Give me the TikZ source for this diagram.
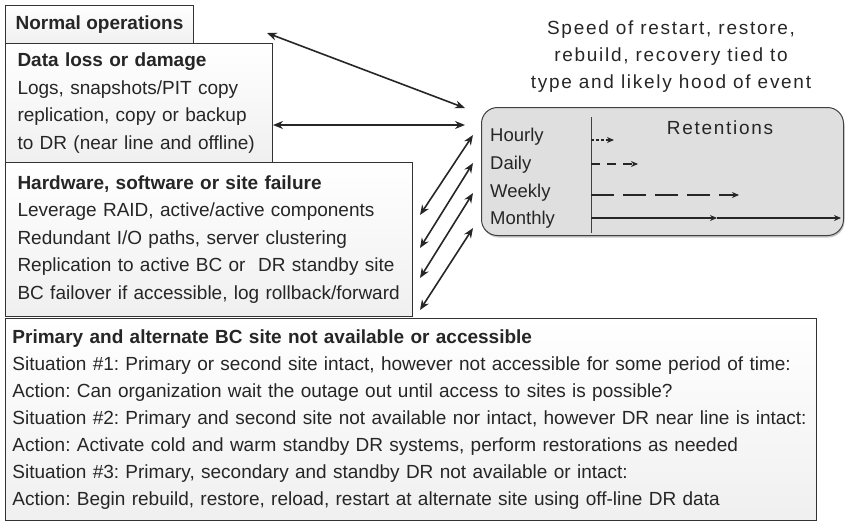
\documentclass[tikz,border=0pt]{standalone}
\usepackage{fontspec}
\setmainfont{Liberation Sans}
\usetikzlibrary{shadows,arrows.meta}
\tikzset{
  evbox/.style={draw=black!80, line width=1pt, top color=white, bottom color=gray!12,
    anchor=north west, align=left, inner ysep=0pt, inner xsep=12pt, text=black!85,
    font=\fontsize{19}{27.5}\selectfont},
  linkarrow/.style={{Stealth[length=10pt,width=8pt]}-{Stealth[length=10pt,width=8pt]}, line width=1.6pt, black!85},
  retarrow/.style={-{Stealth[length=7pt,width=6pt]}, line width=1.5pt, black!85},
  spaced/.style={font=\fontsize{19}{27}\selectfont\addfontfeature{LetterSpace=9}, text=black!85},
  period/.style={anchor=west, inner sep=0pt, font=\fontsize{18.5}{20}\selectfont, text=black!85},
}
\begin{document}
\frenchspacing
\begin{tikzpicture}[x=1pt,y=-1pt]
\useasboundingbox (0,0) rectangle (848,528);

\node[evbox, minimum width=188, minimum height=38, inner xsep=0pt, align=center] (normal) at (5,5)
  {\textbf{Normal operations}};

\node[evbox, text width=243, minimum height=119] (dataloss) at (5,43)
  {\textbf{Data loss or damage}\\
   Logs, snapshots/PIT copy\\
   replication, copy or backup\\
   to DR (near line and offline)};

\node[evbox, text width=383, minimum height=154] (hwfail) at (5,162)
  {\textbf{Hardware, software or site failure}\\
   Leverage RAID, active/active components\\
   Redundant I/O paths, server clustering\\
   Replication to active BC or\ \ DR standby site\\
   BC failover if accessible, log rollback/forward};

\node[evbox, text width=797, minimum height=202, inner xsep=7pt, font=\fontsize{19}{27}\selectfont\frenchspacing] (sitefail) at (5,318)
  {\textbf{Primary and alternate BC site not available or accessible}\\
   Situation \#1: Primary or second site intact, however not accessible for some period of time:\\
   Action: Can organization wait the outage out until access to sites is possible?\\
   \mbox{Situation \#2: Primary and second site not available nor intact, however DR near line is intact:}\\
   Action: Activate cold and warm standby DR systems, perform restorations as needed\\
   Situation \#3: Primary, secondary and standby DR not available or intact:\\
   Action: Begin rebuild, restore, reload, restart at alternate site using off-line DR data};

\node[spaced, align=center] (speed) at (671,57)
  {Speed of restart, restore,\\rebuild, recovery tied to\\type and likely hood of event};

\node[anchor=north west, draw=black!75, line width=1pt, fill=gray!25, rounded corners=16pt,
  minimum width=362, minimum height=128,
  drop shadow={shadow xshift=1pt, shadow yshift=-2pt, opacity=.45}] (retention) at (481,107) {};

\node[spaced] (retlabel) at (720,128) {Retentions};
\node[period] (hourly) at (490,137) {Hourly};
\node[period] (daily) at (490,165) {Daily};
\node[period] (weekly) at (490,193) {Weekly};
\node[period] (monthly) at (490,220) {Monthly};

\draw[black!75, line width=1pt] (591,117) -- (591,233);

\coordinate (h0) at (591,140);
\coordinate (h1) at (614,140);
\coordinate (d0) at (591,164);
\coordinate (d1) at (638,164);
\coordinate (w0) at (591,195);
\coordinate (w1) at (739,195);
\coordinate (m0) at (591,218);
\coordinate (m1) at (717,218);
\coordinate (m2) at (841,218);

\draw[retarrow, dash pattern=on 2.5pt off 2.5pt] (h0) -- (h1);
\draw[retarrow, dash pattern=on 9pt off 7pt] (d0) -- (d1);
\draw[retarrow, dash pattern=on 23pt off 9pt] (w0) -- (w1);
\draw[retarrow] (m1) -- (m2);
\draw[retarrow] (m0) -- (m1);

\coordinate (n0) at (267,33);
\coordinate (n1) at (465,108);
\coordinate (l0) at (273,125);
\coordinate (l1) at (465,125);
\coordinate (s0) at (420,215);
\coordinate (s1) at (473,135);
\coordinate (s2) at (420,248);
\coordinate (s3) at (473,163);
\coordinate (s4) at (420,278);
\coordinate (s5) at (473,193);
\coordinate (s6) at (420,310);
\coordinate (s7) at (473,228);

\draw[linkarrow] (n0) -- (n1);
\draw[linkarrow] (l0) -- (l1);
\draw[linkarrow] (s0) -- (s1);
\draw[linkarrow] (s2) -- (s3);
\draw[linkarrow] (s4) -- (s5);
\draw[linkarrow] (s6) -- (s7);
\end{tikzpicture}
\end{document}
